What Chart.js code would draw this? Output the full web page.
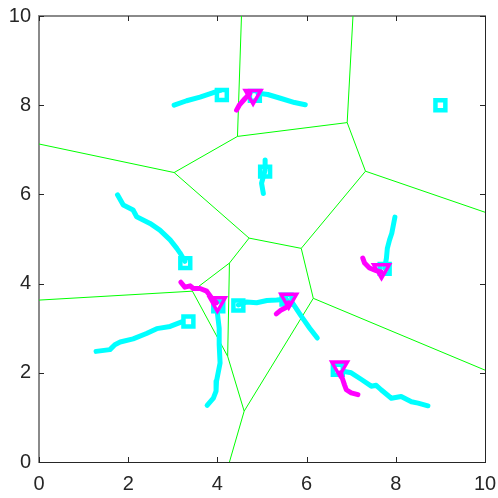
<!DOCTYPE html>
<html>
<head>
<meta charset="utf-8">
<script src="https://cdn.jsdelivr.net/npm/chart.js@4"></script>
<style>
  body { margin: 0; background: #fff; }
  canvas { display: block; }
</style>
</head>
<body>
<canvas id="chart" width="498" height="498"></canvas>
<script>
// axis ticks
const tickValues = [0, 2, 4, 6, 8, 10];

// voronoi edges: [x1, y1, x2, y2]
const voronoiEdges = [
  [0, 7.13, 3.03, 6.49],
  [3.03, 6.49, 4.45, 7.30],
  [4.45, 7.30, 4.54, 10],
  [4.45, 7.30, 6.91, 7.61],
  [6.91, 7.61, 7.04, 10],
  [6.91, 7.61, 7.32, 6.52],
  [7.32, 6.52, 10, 5.60],
  [7.32, 6.52, 5.88, 4.79],
  [3.03, 6.49, 4.71, 5.02],
  [4.71, 5.02, 5.88, 4.79],
  [4.71, 5.02, 4.27, 4.46],
  [4.27, 4.46, 3.44, 3.83],
  [3.44, 3.83, 0, 3.63],
  [4.27, 4.46, 4.23, 2.37],
  [3.44, 3.83, 4.23, 2.37],
  [4.23, 2.37, 4.60, 1.14],
  [4.60, 1.14, 4.27, 0],
  [4.60, 1.14, 6.15, 3.67],
  [5.88, 4.79, 6.15, 3.67],
  [6.15, 3.67, 10, 2.06]
];

// cyan trails
const cyanTrails = [
  [[3.03, 8.00], [3.31, 8.10], [3.61, 8.18], [3.91, 8.28], [4.06, 8.33]],
  [[4.91, 8.27], [5.13, 8.24], [5.43, 8.15], [5.73, 8.06], [5.97, 8.01]],
  [[5.07, 6.77], [5.07, 6.55], [4.99, 6.25], [5.03, 6.02]],
  [[1.76, 5.99], [1.89, 5.76], [2.11, 5.65], [2.19, 5.50], [2.49, 5.35], [2.71, 5.20], [2.94, 4.98], [3.09, 4.79], [3.16, 4.69], [3.27, 4.50]],
  [[1.28, 2.48], [1.59, 2.52], [1.70, 2.63], [1.82, 2.69], [2.11, 2.76], [2.41, 2.88], [2.64, 2.99], [2.94, 3.04], [3.20, 3.14]],
  [[4.00, 3.34], [4.04, 3.00], [4.04, 2.63], [4.06, 2.22], [3.98, 1.81], [3.97, 1.59], [3.91, 1.43], [3.77, 1.27]],
  [[4.47, 3.52], [4.66, 3.59], [4.88, 3.57], [5.11, 3.62], [5.33, 3.63], [5.55, 3.65]],
  [[5.66, 3.60], [5.88, 3.27], [6.07, 3.00], [6.24, 2.78]],
  [[7.98, 5.49], [7.91, 5.13], [7.86, 4.98], [7.81, 4.79], [7.79, 4.57], [7.75, 4.35]],
  [[6.85, 2.03], [7.00, 2.00], [7.23, 1.85], [7.45, 1.70], [7.56, 1.72], [7.67, 1.62], [7.90, 1.43], [8.12, 1.47], [8.35, 1.35], [8.50, 1.32], [8.72, 1.26]]
];

// magenta trails
const magentaTrails = [
  [[4.43, 7.89], [4.49, 8.00], [4.62, 8.15], [4.73, 8.26]],
  [[3.18, 4.03], [3.27, 3.92], [3.39, 3.95], [3.46, 3.89], [3.61, 3.89], [3.76, 3.83], [3.87, 3.68], [3.98, 3.57]],
  [[5.32, 3.32], [5.43, 3.41], [5.55, 3.47], [5.60, 3.57]],
  [[7.26, 4.57], [7.30, 4.46], [7.41, 4.35], [7.56, 4.29], [7.67, 4.26]],
  [[7.15, 1.51], [7.00, 1.55], [6.89, 1.62], [6.85, 1.73], [6.81, 1.85], [6.76, 2.00]]
];

// markers
const squareX = [4.10, 9.00, 5.07, 3.28, 3.35, 4.47, 4.02, 4.84, 7.75, 6.70, 5.55];
const squareY = [8.23, 8.00, 6.51, 4.46, 3.15, 3.51, 3.49, 8.21, 4.33, 2.07, 3.64];
const triangleX = [4.80, 4.00, 5.60, 7.68, 6.74];
const triangleY = [8.23, 3.58, 3.66, 4.32, 2.14];

const toPoints = (arr) => arr.map((p) => ({ x: p[0], y: p[1] }));

// join segments with null gaps
let voronoiData = [];
voronoiEdges.forEach((e) => {
  voronoiData.push({ x: e[0], y: e[1] }, { x: e[2], y: e[3] }, { x: null, y: null });
});

const trailStyle = (color) => ({
  showLine: true,
  borderWidth: 5,
  borderCapStyle: "round",
  borderJoinStyle: "round",
  pointRadius: 0,
  borderColor: color,
  fill: false
});

let datasets = [];
datasets.push({
  data: voronoiData,
  showLine: true,
  spanGaps: false,
  borderColor: "#00ff00",
  borderWidth: 1,
  pointRadius: 0,
  order: 5
});
cyanTrails.forEach((t) => {
  datasets.push(Object.assign({ data: toPoints(t), order: 4 }, trailStyle("#00ffff")));
});
datasets.push({
  data: squareX.map((x, i) => ({ x: x, y: squareY[i] })),
  pointStyle: "rect",
  pointRadius: 7,
  pointBorderWidth: 4.5,
  pointBorderColor: "#00ffff",
  pointBackgroundColor: "rgba(0,0,0,0)",
  showLine: false,
  order: 3
});
magentaTrails.forEach((t) => {
  datasets.push(Object.assign({ data: toPoints(t), order: 2 }, trailStyle("#ff00ff")));
});
datasets.push({
  data: triangleX.map((x, i) => ({ x: x, y: triangleY[i] })),
  pointStyle: "triangle",
  pointRotation: 180,
  pointRadius: 9,
  pointBorderWidth: 3.5,
  pointBorderColor: "#ff00ff",
  pointBackgroundColor: "rgba(0,0,0,0)",
  showLine: false,
  order: 1
});

// inward tick marks on all four sides
const innerTicks = {
  id: "innerTicks",
  afterDraw(chart) {
    const { ctx, chartArea: a, scales } = chart;
    ctx.save();
    ctx.strokeStyle = "#262626";
    ctx.lineWidth = 1;
    ctx.beginPath();
    tickValues.forEach((v) => {
      const px = Math.round(scales.x.getPixelForValue(v)) + 0.5;
      ctx.moveTo(px, a.bottom); ctx.lineTo(px, a.bottom - 5);
      ctx.moveTo(px, a.top); ctx.lineTo(px, a.top + 5);
      const py = Math.round(scales.y.getPixelForValue(v)) + 0.5;
      ctx.moveTo(a.left, py); ctx.lineTo(a.left + 5, py);
      ctx.moveTo(a.right, py); ctx.lineTo(a.right - 5, py);
    });
    ctx.stroke();
    ctx.restore();
  }
};

const tickFont = { family: "'Liberation Sans', Arial, sans-serif", size: 20 };

// fixed axis sizes, no label overflow padding
const fixSize = (w, h) => (s) => {
  if (w !== null) s.width = w;
  if (h !== null) s.height = h;
  s.paddingLeft = 0; s.paddingRight = 0; s.paddingTop = 0; s.paddingBottom = 0;
};

new Chart(document.getElementById("chart").getContext("2d"), {
  type: "scatter",
  data: { datasets: datasets },
  plugins: [innerTicks],
  options: {
    responsive: false,
    animation: false,
    devicePixelRatio: 1,
    layout: { padding: 0 },
    plugins: { legend: { display: false }, tooltip: { enabled: false } },
    scales: {
      x: {
        type: "linear", position: "bottom", min: 0, max: 10,
        afterBuildTicks: (s) => { s.ticks = tickValues.map((v) => ({ value: v })); },
        afterFit: fixSize(null, 36),
        grid: { display: false, drawTicks: false },
        border: { display: true, color: "#262626", width: 1 },
        ticks: { font: tickFont, color: "#262626", padding: 10, maxRotation: 0 }
      },
      x2: {
        type: "linear", position: "top", min: 0, max: 10,
        afterFit: fixSize(null, 16),
        grid: { display: false, drawTicks: false },
        border: { display: true, color: "#8a8a8a", width: 2 },
        ticks: { display: false }
      },
      y: {
        type: "linear", position: "left", min: 0, max: 10,
        afterBuildTicks: (s) => { s.ticks = tickValues.map((v) => ({ value: v })); },
        afterFit: fixSize(39, null),
        grid: { display: false, drawTicks: false },
        border: { display: true, color: "#8a8a8a", width: 2 },
        ticks: { font: tickFont, color: "#262626", padding: 8 }
      },
      y2: {
        type: "linear", position: "right", min: 0, max: 10,
        afterFit: fixSize(13, null),
        grid: { display: false, drawTicks: false },
        border: { display: true, color: "#262626", width: 1 },
        ticks: { display: false }
      }
    }
  }
});
</script>
</body>
</html>
